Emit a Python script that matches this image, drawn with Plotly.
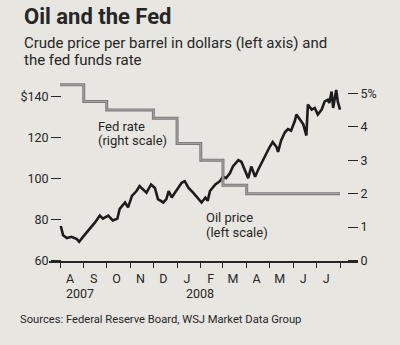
import plotly.graph_objects as go

# ---- data ----
oil_dates = [
    "2007-08-02", "2007-08-05", "2007-08-10", "2007-08-16", "2007-08-23", "2007-08-26",
    "2007-08-31", "2007-09-09", "2007-09-16", "2007-09-22", "2007-09-26", "2007-10-03",
    "2007-10-09", "2007-10-15", "2007-10-18", "2007-10-25", "2007-10-29", "2007-11-03",
    "2007-11-09", "2007-11-13", "2007-11-17", "2007-11-22", "2007-11-28", "2007-12-03",
    "2007-12-07", "2007-12-14", "2007-12-18", "2007-12-21", "2007-12-25", "2007-12-31",
    "2008-01-07", "2008-01-11", "2008-01-16", "2008-01-22", "2008-01-29", "2008-02-02",
    "2008-02-07", "2008-02-10", "2008-02-13", "2008-02-20", "2008-02-26", "2008-03-01",
    "2008-03-05", "2008-03-10", "2008-03-14", "2008-03-21", "2008-03-25", "2008-03-30",
    "2008-04-03", "2008-04-07", "2008-04-12", "2008-04-16", "2008-04-22", "2008-04-27",
    "2008-05-01", "2008-05-05", "2008-05-10", "2008-05-12", "2008-05-16", "2008-05-21",
    "2008-05-25", "2008-05-29", "2008-06-03", "2008-06-05", "2008-06-09", "2008-06-14",
    "2008-06-18", "2008-06-20", "2008-06-25", "2008-06-29", "2008-07-03", "2008-07-08",
    "2008-07-12", "2008-07-16", "2008-07-18", "2008-07-21", "2008-07-23", "2008-07-27",
    "2008-07-29", "2008-08-01",
]
oil_price = [
    76.9, 72.4, 71.0, 71.6, 70.5, 69.2,
    71.6, 75.6, 78.8, 82.0, 80.5, 82.0,
    79.6, 80.5, 85.3, 88.4, 86.0, 91.6,
    94.0, 96.4, 94.8, 93.2, 97.2, 95.5,
    90.0, 88.4, 90.0, 94.0, 90.8, 94.0,
    98.0, 98.8, 95.5, 93.2, 90.0, 88.4,
    90.8, 89.2, 94.0, 97.2, 98.8, 101.0,
    100.3, 102.7, 106.0, 109.1, 108.3, 103.5,
    100.3, 106.0, 101.0, 104.4, 109.1, 112.3,
    115.5, 117.9, 115.5, 113.1, 118.7, 122.7,
    124.3, 123.5, 128.3, 131.4, 129.0, 126.6,
    121.1, 136.2, 133.8, 134.6, 131.4, 133.8,
    137.8, 138.6, 137.0, 142.6, 134.6, 143.4,
    137.8, 133.8,
]

fed_dates = ["2007-08-01", "2007-09-01", "2007-10-01", "2007-12-01", "2008-01-01",
             "2008-02-01", "2008-03-01", "2008-04-01", "2008-08-01"]
fed_rate = [5.25, 4.75, 4.5, 4.25, 3.5, 3.0, 2.25, 2.0, 2.0]

month_ticks = ["2007-08-01", "2007-09-01", "2007-10-01", "2007-11-01", "2007-12-01",
               "2008-01-01", "2008-02-01", "2008-03-01", "2008-04-01", "2008-05-01",
               "2008-06-01", "2008-07-01", "2008-08-01"]
month_label_pos = ["2007-08-14", "2007-09-14", "2007-10-14", "2007-11-14", "2007-12-14",
                   "2008-01-14", "2008-02-14", "2008-03-14", "2008-04-14", "2008-05-14",
                   "2008-06-14", "2008-07-14"]
month_labels = ["A", "S", "O", "N", "D", "J", "F", "M", "A", "M", "J", "J"]

left_ticks = [60, 80, 100, 120, 140]
left_labels = ["60", "80", "100", "120", "$140"]
right_ticks = [0, 1, 2, 3, 4, 5]
right_labels = ["0", "1", "2", "3", "4", "5%"]

BG = "#e8e6e0"
INK = "#262626"
FONT = "Roboto, 'Liberation Sans Narrow', 'DejaVu Sans Condensed', sans-serif"

fig = go.Figure()
fig.add_trace(go.Scatter(x=fed_dates, y=fed_rate, yaxis="y2", mode="lines",
                         line=dict(color="#7a7a7a", width=3, shape="hv"),
                         hoverinfo="skip", showlegend=False))
fig.add_trace(go.Scatter(x=fed_dates, y=fed_rate, yaxis="y2", mode="lines",
                         line=dict(color="#a9a7a2", width=1, shape="hv"),
                         hoverinfo="skip", showlegend=False))
fig.add_trace(go.Scatter(x=oil_dates, y=oil_price, mode="lines",
                         line=dict(color="#1c1c1c", width=2.6),
                         hoverinfo="skip", showlegend=False))

fig.update_layout(
    width=400, height=345,
    margin=dict(l=0, r=0, t=0, b=0),
    paper_bgcolor=BG, plot_bgcolor=BG,
    font=dict(family=FONT, color=INK, size=12),
    xaxis=dict(
        domain=[49 / 400, 358 / 400],
        range=["2007-07-17 14:00", "2008-08-24 12:00"],
        showgrid=False, zeroline=False,
        showline=True, linecolor=INK, linewidth=1.5,
        tickmode="array", tickvals=month_label_pos, ticktext=month_labels,
        ticks="", tickfont=dict(size=12.5, color=INK), ticklabelstandoff=6,
        minor=dict(tickmode="array", tickvals=month_ticks, ticks="outside",
                   ticklen=6, tickwidth=1.3, tickcolor=INK, showgrid=False),
    ),
    yaxis=dict(
        domain=[1 - 266 / 345, 1 - 78 / 345],
        range=[60, 150], anchor="free", position=61 / 400, side="left",
        showgrid=False, zeroline=False, showline=False,
        tickmode="array", tickvals=left_ticks, ticktext=left_labels,
        ticks="outside", ticklen=10, tickwidth=1.3, tickcolor=INK,
        tickfont=dict(size=12.5, color=INK),
    ),
    yaxis2=dict(
        range=[0, 5.5], overlaying="y", anchor="free", position=347 / 400, side="right",
        showgrid=False, zeroline=False, showline=False,
        tickmode="array", tickvals=right_ticks, ticktext=right_labels,
        ticks="outside", ticklen=10, tickwidth=1.3, tickcolor=INK,
        tickfont=dict(size=12.5, color=INK),
    ),
)

def txt(text, x, y, size, bold=False):
    fig.add_annotation(text=f"<b>{text}</b>" if bold else text,
                       xref="paper", yref="paper", x=x / 400, y=1 - y / 345,
                       xanchor="left", yanchor="middle", showarrow=False,
                       font=dict(size=size, color=INK, family=FONT))

txt("Oil and the Fed", 22, 17, 22, bold=True)
txt("Crude price per barrel in dollars (left axis) and", 22, 44, 15)
txt("the fed funds rate", 22, 61, 15)
txt("Fed rate", 96, 129, 13)
txt("(right scale)", 96, 143, 13)
txt("Oil price", 204, 222, 13)
txt("(left scale)", 204, 237, 13)
txt("2007", 64, 300, 12.5)
txt("2008", 184, 300, 12.5)
txt("Sources: Federal Reserve Board, WSJ Market Data Group", 18, 326, 11.2)

fig.write_html("out.html")
